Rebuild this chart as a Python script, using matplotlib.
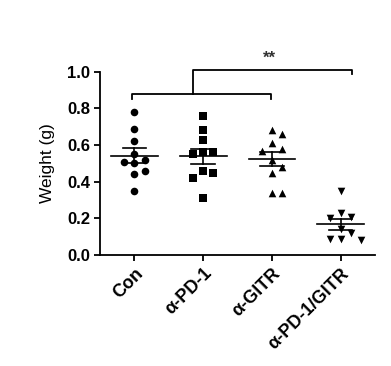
import numpy as np
import matplotlib
matplotlib.use("Agg")
import matplotlib.pyplot as plt

plt.rcParams['font.family'] = ['Liberation Sans', 'DejaVu Sans']

groups = ['Con', 'α-PD-1', 'α-GITR', 'α-PD-1/GITR']
con = [0.78, 0.69, 0.62, 0.55, 0.52, 0.51, 0.50, 0.46, 0.44, 0.35]
pd1 = [0.76, 0.68, 0.63, 0.56, 0.56, 0.55, 0.46, 0.45, 0.42, 0.31]
gitr = [0.68, 0.66, 0.61, 0.58, 0.57, 0.52, 0.48, 0.45, 0.34, 0.34]
combo = [0.35, 0.23, 0.21, 0.20, 0.14, 0.12, 0.09, 0.08, 0.09]
values = [con, pd1, gitr, combo]
markers = ['o', 's', '^', 'v']


def swarm(vals, px_per_x=69.0, px_per_y=183.0, diam=9.0):
    # simple beeswarm: push points sideways until they stop overlapping
    placed = []
    offs = np.zeros(len(vals))
    order = np.argsort(vals)[::-1]
    for i in order:
        y = vals[i] * px_per_y
        k = 0
        while True:
            step = (k + 1) // 2 * (1 if k % 2 else -1)
            x = step * diam * 1.15
            if all((x - px) ** 2 + (y - py) ** 2 >= diam ** 2 for px, py in placed):
                break
            k += 1
        placed.append((x, y))
        offs[i] = x / px_per_x
    return offs


fig = plt.figure(figsize=(3.91, 3.66), dpi=100)
ax = fig.add_axes([0.256, 0.303, 0.703, 0.501])

for i, (vals, m) in enumerate(zip(values, markers)):
    v = np.array(vals)
    ax.scatter(i + swarm(v), v, marker=m, s=30, color='black', zorder=3, linewidths=0)
    mean = v.mean()
    sem = v.std(ddof=1) / np.sqrt(len(v))
    ax.plot([i - 0.34, i + 0.34], [mean, mean], color='black', lw=1.2, zorder=4)
    ax.plot([i, i], [mean - sem, mean + sem], color='black', lw=1.2, zorder=4)
    for e in (mean - sem, mean + sem):
        ax.plot([i - 0.17, i + 0.17], [e, e], color='black', lw=1.2, zorder=4)

# significance brackets
ax.plot([-0.04, -0.04, 1.98, 1.98], [0.85, 0.88, 0.88, 0.85], color='black', lw=1.3, clip_on=False)
ax.plot([0.85, 0.85, 3.16, 3.16], [0.88, 1.01, 1.01, 0.985], color='black', lw=1.3, clip_on=False)
ax.text(1.96, 1.035, '**', ha='center', va='bottom', fontsize=12, fontweight='bold', color='#333333')

ax.set_xlim(-0.5, 3.5)
ax.set_ylim(0, 1.0)
ax.set_yticks(np.arange(0, 1.01, 0.2))
ax.set_yticklabels([f'{t:.1f}' for t in np.arange(0, 1.01, 0.2)], fontweight='bold', fontsize=12)
ax.set_xticks(range(len(groups)))
ax.set_xticklabels(groups, rotation=45, ha='right', rotation_mode='anchor', fontweight='bold', fontsize=13)
ax.set_ylabel('Weight (g)', fontsize=12.5, labelpad=9)

for s in ['top', 'right']:
    ax.spines[s].set_visible(False)
for s in ['left', 'bottom']:
    ax.spines[s].set_linewidth(1.3)
ax.tick_params(width=1.3, length=4, direction='out', pad=3)

fig.savefig('out.png', dpi=100)
